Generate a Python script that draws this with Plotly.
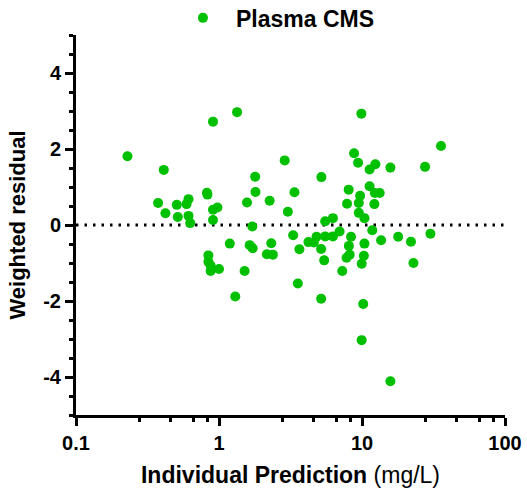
import plotly.graph_objects as go

# Individual prediction (mg/L)
pred = [0.229, 0.411, 0.908, 1.338, 0.375, 0.422, 0.507, 0.515, 0.593, 0.612,
        0.612, 0.629, 0.824, 0.83, 0.908, 0.975, 0.908, 0.843, 0.843, 0.874,
        0.874, 1.0, 1.19, 1.51, 1.30, 1.57, 1.64, 1.72, 1.71, 1.79,
        1.80, 2.26, 2.32, 2.16, 2.38, 2.88, 3.37, 3.03, 3.30, 3.65,
        3.56, 4.22, 4.61, 4.81, 5.18, 5.44, 5.18, 5.20, 5.53, 5.53,
        6.26, 6.26, 6.97, 7.28, 8.07, 7.86, 8.38, 8.1, 8.2, 7.8,
        8.8, 9.39, 9.9, 9.7, 9.5, 9.5, 10.4, 9.95, 10.3, 10.4,
        10.2, 9.95, 12.4, 11.3, 15.8, 27.6, 35.7, 11.3, 12.3, 13.3,
        12.2, 11.8, 13.6, 17.9, 22.0, 30.1, 22.9, 15.8]
# Weighted residual
wres = [1.81, 1.45, 2.72, 2.97, 0.58, 0.31, 0.53, 0.21, 0.55, 0.68,
        0.24, 0.05, 0.85, 0.80, 0.40, 0.46, 0.13, -0.80, -0.97, -1.07,
        -1.21, -1.16, -0.49, -1.21, -1.88, 0.59, -0.53, -0.61, -0.04, 1.27,
        0.87, 0.64, -0.48, -0.77, -0.78, 1.70, 0.86, 0.35, -0.27, -0.64,
        -1.54, -0.45, -0.46, -0.31, -0.63, -0.93, -1.94, 1.26, 0.10, -0.30,
        0.18, -0.30, -0.17, -1.21, 0.93, 0.56, -0.31, -0.55, -0.78, -0.86,
        1.89, 1.64, 2.93, 0.77, 0.58, 0.32, 0.18, -1.02, -0.81, -0.49,
        -2.08, -3.03, 1.60, 1.46, 1.51, 1.53, 2.08, 1.02, 0.84, 0.84,
        0.55, -0.14, -0.40, -0.31, -0.44, -0.23, -1.00, -4.11]

series_name = "Plasma CMS"
x_tickvals = [0.1, 1, 10, 100]
x_ticktext = ["0.1", "1", "10", "100"]
x_minor = [m * 10 ** d for d in (-1, 0, 1) for m in (2.8, 4.6, 6.6, 8.3)]
y_tickvals = [-4, -2, 0, 2, 4]
y_ticktext = ["-4", "-2", "0", "2", "4"]
ref_x = [0.1, 100]
ref_y = [0, 0]

FONT = "Liberation Sans, Arial, sans-serif"
GREEN = "rgb(0,192,0)"

fig = go.Figure()
fig.add_trace(go.Scatter(x=ref_x, y=ref_y, mode="lines", showlegend=False,
                         line=dict(color="black", width=3, dash="2.5px,6px"),
                         hoverinfo="skip"))
fig.add_trace(go.Scatter(x=pred, y=wres, mode="markers", name=series_name,
                         marker=dict(color=GREEN, size=10, line=dict(width=0))))

axis_common = dict(showline=True, linecolor="black", linewidth=3, showgrid=False,
                   zeroline=False, ticks="outside", ticklen=8, tickwidth=2.5,
                   tickcolor="black",
                   tickfont=dict(family=FONT, size=20, color="black", weight="bold"))

fig.update_xaxes(type="log", range=[-1, 2], tickvals=x_tickvals, ticktext=x_ticktext,
                 minor=dict(tickvals=x_minor, ticks="outside", ticklen=4, tickwidth=2.5,
                            tickcolor="black"),
                 title=dict(text="<b>Individual Prediction</b> (mg/L)",
                            font=dict(family=FONT, size=23, color="black"), standoff=14),
                 **axis_common)
fig.update_yaxes(range=[-5, 5], tickvals=y_tickvals, ticktext=y_ticktext,
                 minor=dict(dtick=0.5, ticks="outside", ticklen=4, tickwidth=2.5,
                            tickcolor="black"),
                 title=dict(text="<b>Weighted residual</b>",
                            font=dict(family=FONT, size=22, color="black"), standoff=12),
                 **axis_common)

fig.update_layout(
    width=527, height=493,
    margin=dict(l=76, r=22, t=35, b=78, autoexpand=False),
    paper_bgcolor="white", plot_bgcolor="white",
    showlegend=True,
    legend=dict(orientation="h", x=0.219, xanchor="left", y=1.045, yanchor="middle",
                font=dict(family=FONT, size=23, color="black", weight="bold"),
                bgcolor="rgba(0,0,0,0)", itemwidth=56),
)
fig.write_html("out.html", config={"displayModeBar": False},
               post_script="document.body.style.margin='0';document.body.style.padding='0';")
